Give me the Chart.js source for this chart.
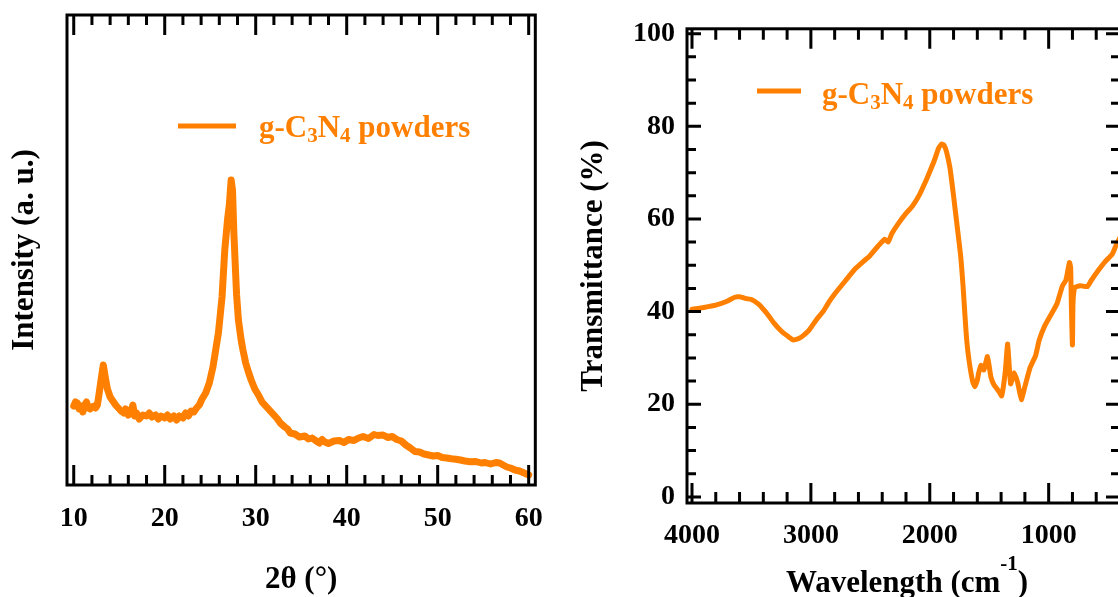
<!DOCTYPE html>
<html>
<head>
<meta charset="utf-8">
<script src="https://cdn.jsdelivr.net/npm/chart.js@4.4.1/dist/chart.umd.min.js"></script>
<style>
  html, body { margin: 0; padding: 0; background: #fff; overflow: hidden; }
  #wrap { position: relative; width: 1118px; height: 597px; overflow: hidden; }
  canvas { position: absolute; top: 0; }
  #xrdChart { left: 0; }
  #ftirChart { left: 560px; }
</style>
</head>
<body>
<div id="wrap">
  <canvas id="xrdChart" width="560" height="597"></canvas>
  <canvas id="ftirChart" width="600" height="597"></canvas>
</div>
<script>
// --- données XRD (2θ en degrés, intensité en unités arbitraires)
const xrdAngle = [
  10.0, 10.2, 10.4, 10.6, 10.8, 11.0, 11.2, 11.4, 11.6, 11.8,
  12.0, 12.2, 12.4, 12.6, 12.8, 13.0, 13.25, 13.5, 13.7, 14.0,
  14.3, 14.6, 14.9, 15.2, 15.5, 15.7, 16.0, 16.3, 16.5, 16.7,
  16.9, 17.2, 17.6, 18.0, 18.3, 18.6, 19.0, 19.3, 19.6, 20.0,
  20.3, 20.6, 21.0, 21.3, 21.6, 22.0, 22.3, 22.6, 22.9, 23.2,
  23.5, 23.8, 24.1, 24.5, 24.9, 25.3, 25.6, 25.9, 26.1, 26.3,
  26.6, 26.9, 27.1, 27.3, 27.45, 27.6, 27.8, 27.9, 28.1, 28.4,
  28.6, 28.9, 29.2, 29.5, 29.9, 30.3, 30.7, 31.1, 31.5, 32.0,
  32.4, 32.7, 33.2, 33.5, 33.8, 34.3, 34.8, 35.4, 35.8, 36.2,
  36.5, 37.0, 37.3, 37.6, 38.0, 38.6, 39.2, 39.7, 40.2, 40.8,
  41.3, 41.8, 42.4, 43.0, 43.4, 44.0, 44.5, 45.0, 45.5, 46.0,
  46.5, 47.0, 47.5, 48.0, 48.5, 49.0, 49.5, 50.0, 50.5, 51.0,
  51.5, 52.0, 52.5, 53.0, 53.6, 54.2, 54.8, 55.2, 55.8, 56.4,
  56.8, 57.2, 57.6, 58.0, 58.5, 59.0, 59.5, 60.0
];
const xrdIntensity = [
  790, 830, 820, 760, 790, 730, 800, 830, 770, 760,
  780, 790, 770, 800, 920, 1050, 1200, 1060, 960, 880,
  840, 800, 770, 740, 720, 760, 700, 740, 800, 690,
  720, 660, 700, 690, 720, 680, 700, 660, 690, 670,
  700, 660, 690, 650, 690, 670, 720, 690, 740, 730,
  770, 800, 860, 920, 1020, 1180, 1350, 1520, 1700, 1880,
  2350, 2650, 2800, 3050, 2950, 2520, 2100, 1900, 1650, 1450,
  1350, 1220, 1130, 1050, 960, 900, 830, 790, 750, 700,
  660, 620, 580, 560, 520, 510, 480, 490, 460, 470,
  450, 420, 455, 430, 415, 440, 445, 425, 455, 445,
  470, 485, 465, 505, 495, 500, 475, 485, 455, 440,
  400, 370, 335, 330, 310, 300, 290, 295, 275, 270,
  262, 258, 250, 240, 232, 235, 220, 225, 210, 225,
  220, 200, 180, 170, 150, 140, 120, 100
];
const xrdTicks = [10, 20, 30, 40, 50, 60];

// --- données FTIR (nombre d'onde en cm-1, transmittance en %)
const ftirWavenumber = [
  4000, 3900, 3800, 3700, 3640, 3600, 3540, 3500, 3440, 3400,
  3370, 3310, 3250, 3190, 3150, 3110, 3075, 3015, 2955, 2895,
  2850, 2800, 2715, 2625, 2560, 2505, 2440, 2380, 2350, 2320,
  2265, 2200, 2145, 2085, 2040, 2010, 1965, 1925, 1900, 1880,
  1860, 1830, 1800, 1770, 1740, 1720, 1705, 1690, 1670, 1640,
  1620, 1600, 1590, 1570, 1545, 1515, 1485, 1460, 1440, 1415,
  1395, 1365, 1345, 1320, 1290, 1260, 1230, 1200, 1155, 1110,
  1080, 1035, 975, 930, 885, 855, 825, 815, 808, 800,
  795, 780, 735, 675, 645, 585, 525, 465, 435, 400
];
const ftirTransmittance = [
  40.5, 40.9, 41.4, 42.3, 43.1, 43.2, 42.8, 42.6, 41.6, 40.5,
  39.6, 37.5, 35.8, 34.6, 33.9, 34.1, 34.6, 36.0, 38.2, 40.1,
  42.0, 43.8, 46.5, 49.3, 50.8, 52.0, 54.0, 55.6, 55.0, 56.8,
  59.0, 61.2, 62.8, 65.3, 67.8, 69.6, 72.4, 75.3, 76.2, 75.9,
  74.6, 71.0, 65.0, 58.5, 52.0, 45.5, 39.5, 34.0, 29.5, 25.0,
  23.8, 25.2, 26.6, 28.4, 27.4, 30.3, 25.8, 24.2, 23.5, 22.6,
  21.8, 27.0, 33.0, 24.4, 26.8, 24.6, 21.0, 23.8, 28.0, 30.5,
  33.8, 36.8, 39.6, 41.7, 45.5, 46.8, 50.6, 49.5, 40.0, 32.8,
  42.0, 45.2, 45.6, 45.4, 46.6, 48.8, 50.8, 52.4, 54.2, 56.0
];
const ftirXTicks = [4000, 3000, 2000, 1000];
const ftirYTicks = [0, 20, 40, 60, 80, 100];

const sampleName = 'g-C3N4 powders';
const sampleParts = [{ t: 'g-C' }, { t: '3', sub: true }, { t: 'N' }, { t: '4', sub: true }, { t: ' powders' }];
const ftirXTitle = [{ t: 'Wavelength (cm' }, { t: '-1', sup: true }, { t: ')' }];

const ORANGE = '#ff8000';
const SERIF = "'Liberation Serif', 'Times New Roman', serif";
const tickFont = { family: SERIF, size: 28, weight: 'bold' };
const titleFont = { family: SERIF, size: 31, weight: 'bold' };

Chart.defaults.color = '#000';

// texte avec indices / exposants
function drawRich(ctx, parts, x, y, size, align) {
    const fontOf = p => `bold ${(p.sub || p.sup) ? Math.round(size * 0.68) : size}px ${SERIF}`;
    let total = 0;
    parts.forEach(p => { ctx.font = fontOf(p); total += ctx.measureText(p.t).width; });
    let cx = align === 'center' ? x - total / 2 : x;
    ctx.textBaseline = 'alphabetic';
    ctx.textAlign = 'left';
    parts.forEach(p => {
        ctx.font = fontOf(p);
        const dy = p.sub ? size * 0.17 : (p.sup ? -size * 0.7 : 0);
        ctx.fillText(p.t, cx, y + dy);
        cx += ctx.measureText(p.t).width;
    });
}

// cadre + graduations intérieures
const frameTicks = {
    id: 'frameTicks',
    afterDatasetsDraw(chart, args, opts) {
        const { ctx, chartArea: a, scales } = chart;
        ctx.save();
        ctx.strokeStyle = '#000';
        ctx.lineWidth = 3;
        ctx.lineCap = 'butt';
        ctx.strokeRect(a.left, a.top, a.right - a.left, a.bottom - a.top);
        ctx.beginPath();
        if (opts.x) {
            const o = opts.x;
            const n = Math.round((o.to - o.from) / o.step);
            for (let i = 0; i <= n; i++) {
                const v = o.from + i * o.step;
                const len = v % o.majorEvery === 0 ? o.major : o.minor;
                const px = scales.x.getPixelForValue(v);
                ctx.moveTo(px, a.bottom); ctx.lineTo(px, a.bottom - len);
                ctx.moveTo(px, a.top); ctx.lineTo(px, a.top + len);
            }
        }
        if (opts.y) {
            const o = opts.y;
            const n = Math.round((o.to - o.from) / o.step);
            for (let i = 0; i <= n; i++) {
                const v = o.from + i * o.step;
                const len = v % o.majorEvery === 0 ? o.major : o.minor;
                const py = scales.y.getPixelForValue(v);
                ctx.moveTo(a.left, py); ctx.lineTo(a.left + len, py);
                ctx.moveTo(a.right, py); ctx.lineTo(a.right - len, py);
            }
        }
        ctx.stroke();
        ctx.restore();
    }
};

// légende et titre avec indices
const annotate = {
    id: 'annotate',
    afterDraw(chart, args, opts) {
        const ctx = chart.ctx;
        ctx.save();
        if (opts.legend) {
            const l = opts.legend;
            const color = chart.data.datasets[0].borderColor;
            ctx.strokeStyle = color;
            ctx.lineWidth = 5;
            ctx.beginPath();
            ctx.moveTo(l.x1, l.y); ctx.lineTo(l.x2, l.y);
            ctx.stroke();
            ctx.fillStyle = color;
            drawRich(ctx, sampleParts, l.textX, l.baseline, 31, 'left');
        }
        if (opts.xTitle) {
            ctx.fillStyle = '#000';
            drawRich(ctx, opts.xTitle.parts, opts.xTitle.x, opts.xTitle.baseline, 31, 'center');
        }
        ctx.restore();
    }
};

function axisBase() {
    return {
        type: 'linear',
        grid: { display: false, drawTicks: false },
        border: { display: false },
    };
}

// --- diffractogramme
new Chart(document.getElementById('xrdChart'), {
    type: 'line',
    data: {
        datasets: [{
            label: sampleName,
            data: xrdAngle.map((a, i) => ({ x: a, y: xrdIntensity[i] })),
            borderColor: ORANGE,
            borderWidth: 7,
            pointRadius: 0,
            tension: 0,
            borderJoinStyle: 'round',
            borderCapStyle: 'round',
            fill: false
        }]
    },
    options: {
        responsive: false,
        animation: false,
        layout: { padding: { top: 15, right: 23, left: 0, bottom: 0 } },
        plugins: {
            legend: { display: false },
            tooltip: { enabled: false },
            frameTicks: { x: { from: 10, to: 60, step: 2, majorEvery: 10, major: 20, minor: 10 } },
            annotate: { legend: { x1: 178, x2: 236, y: 126, textX: 259, baseline: 137 } }
        },
        scales: {
            x: Object.assign(axisBase(), {
                min: 9.26, max: 60.73,
                afterBuildTicks: s => { s.ticks = xrdTicks.map(v => ({ value: v })); },
                afterFit: s => { s.height = 112; },
                ticks: { font: tickFont, padding: 17, maxRotation: 0, autoSkip: false, callback: v => String(v) },
                title: { display: true, text: '2θ (°)', font: titleFont, padding: { top: 0, bottom: -2 } }
            }),
            y: Object.assign(axisBase(), {
                min: 0, max: 4700,
                afterFit: s => { s.width = 67; },
                ticks: { display: false },
                title: { display: true, text: 'Intensity (a. u.)', font: titleFont, padding: { top: 6, bottom: 0 } }
            })
        }
    },
    plugins: [frameTicks, annotate]
});

// --- spectre FTIR
new Chart(document.getElementById('ftirChart'), {
    type: 'line',
    data: {
        datasets: [{
            label: sampleName,
            data: ftirWavenumber.map((w, i) => ({ x: w, y: ftirTransmittance[i] })),
            borderColor: ORANGE,
            borderWidth: 5,
            pointRadius: 0,
            tension: 0.15,
            borderJoinStyle: 'round',
            borderCapStyle: 'round',
            fill: false
        }]
    },
    options: {
        responsive: false,
        animation: false,
        layout: { padding: { top: 15, right: 40, left: 0, bottom: 0 } },
        plugins: {
            legend: { display: false },
            tooltip: { enabled: false },
            frameTicks: {
                x: { from: 400, to: 4000, step: 200, majorEvery: 1000, major: 20, minor: 11 },
                y: { from: 0, to: 100, step: 5, majorEvery: 20, major: 14, minor: 9 }
            },
            annotate: {
                legend: { x1: 197, x2: 241, y: 91, textX: 262, baseline: 103.5 },
                xTitle: { parts: ftirXTitle, x: 347, baseline: 592 }
            }
        },
        scales: {
            x: Object.assign(axisBase(), {
                reverse: true,
                min: 400, max: 4042,
                afterBuildTicks: s => { s.ticks = ftirXTicks.map(v => ({ value: v })); },
                afterFit: s => { s.height = 94; },
                ticks: { font: tickFont, padding: 16, maxRotation: 0, autoSkip: false, callback: v => String(v) },
                title: { display: false }
            }),
            y: Object.assign(axisBase(), {
                min: -1.32, max: 101.05,
                afterBuildTicks: s => { s.ticks = ftirYTicks.map(v => ({ value: v })); },
                afterFit: s => { s.width = 127; },
                ticks: { font: tickFont, padding: 12, autoSkip: false, callback: v => String(v) },
                title: { display: true, text: 'Transmittance (%)', font: titleFont, padding: { top: 15, bottom: 0 } }
            })
        }
    },
    plugins: [frameTicks, annotate]
});
</script>
</body>
</html>
